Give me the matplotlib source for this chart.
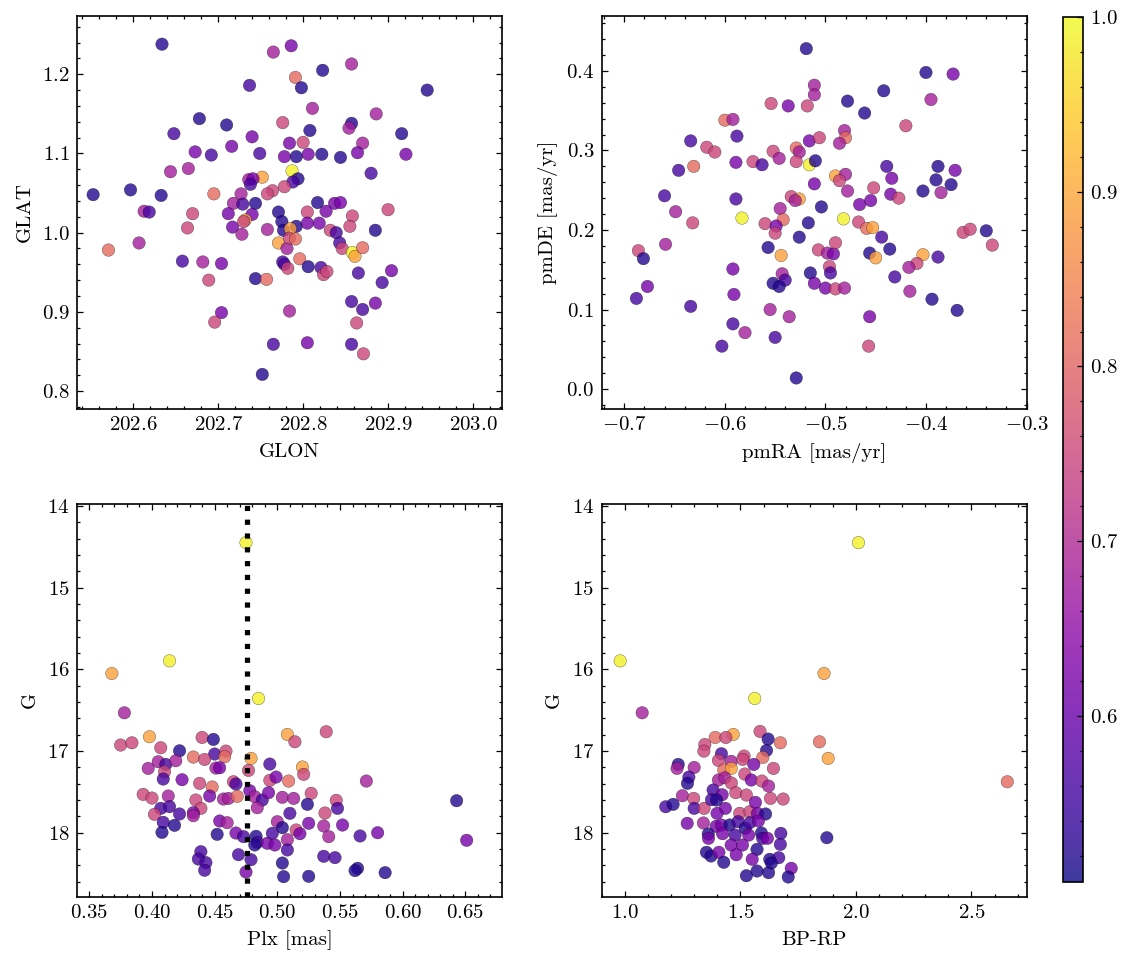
import numpy as np
import matplotlib
matplotlib.use("Agg")
import matplotlib.pyplot as plt
from matplotlib.ticker import AutoMinorLocator, MultipleLocator

# science-like style: serif CM font, inward ticks on all sides
plt.rcParams.update({
    "font.family": "serif",
    "font.serif": ["cmr10"],
    "mathtext.fontset": "cm",
    "axes.formatter.use_mathtext": True,
    "font.size": 10,
    "axes.linewidth": 0.8,
    "xtick.direction": "in",
    "ytick.direction": "in",
    "xtick.top": True,
    "ytick.right": True,
    "xtick.minor.visible": True,
    "ytick.minor.visible": True,
    "xtick.major.size": 3,
    "ytick.major.size": 3,
    "xtick.minor.size": 1.5,
    "ytick.minor.size": 1.5,
    "xtick.major.width": 0.6,
    "ytick.major.width": 0.6,
    "xtick.minor.width": 0.6,
    "ytick.minor.width": 0.6,
})

# ---- panel 1: GLON / GLAT ----
glon = [202.634, 202.765, 202.786, 202.857, 202.791, 202.823, 202.798, 202.737, 202.946, 202.811,
        202.678, 202.710, 202.648, 202.776, 202.808, 202.857, 202.854, 202.886, 202.916, 202.740,
        202.716, 202.784, 202.800, 202.870, 202.673, 202.692, 202.749, 202.778, 202.792, 202.806,
        202.822, 202.844, 202.864, 202.921, 202.644, 202.665, 202.787, 202.752, 202.736, 202.741,
        202.738, 202.794, 202.788, 202.880, 202.778, 202.764, 202.758, 202.695, 202.727, 202.553,
        202.597, 202.633, 202.718, 202.729, 202.744, 202.817, 202.837, 202.844, 202.613, 202.619,
        202.670, 202.712, 202.740, 202.771, 202.805, 202.827, 202.858, 202.900, 202.664, 202.717,
        202.728, 202.732, 202.730, 202.775, 202.777, 202.758, 202.792, 202.785, 202.805, 202.819,
        202.832, 202.839, 202.855, 202.885, 202.571, 202.607, 202.771, 202.781, 202.784, 202.791,
        202.843, 202.846, 202.858, 202.861, 202.870, 202.658, 202.682, 202.704, 202.776, 202.778,
        202.782, 202.796, 202.806, 202.821, 202.824, 202.828, 202.865, 202.904, 202.689, 202.744,
        202.757, 202.893, 202.857, 202.870, 202.885, 202.704, 202.696, 202.784, 202.863, 202.765,
        202.805, 202.857, 202.871, 202.752]
glat = [1.238, 1.228, 1.236, 1.213, 1.196, 1.205, 1.183, 1.186, 1.180, 1.157,
        1.144, 1.136, 1.125, 1.139, 1.129, 1.138, 1.132, 1.150, 1.125, 1.121,
        1.109, 1.113, 1.114, 1.113, 1.102, 1.098, 1.100, 1.096, 1.096, 1.099,
        1.099, 1.095, 1.101, 1.099, 1.077, 1.081, 1.078, 1.070, 1.067, 1.068,
        1.061, 1.068, 1.064, 1.075, 1.058, 1.053, 1.049, 1.049, 1.049, 1.048,
        1.054, 1.047, 1.037, 1.036, 1.037, 1.038, 1.037, 1.038, 1.027, 1.026,
        1.024, 1.024, 1.023, 1.026, 1.026, 1.027, 1.021, 1.029, 1.006, 1.007,
        0.998, 1.016, 1.014, 1.014, 1.003, 1.004, 1.008, 1.005, 1.012, 1.012,
        1.003, 1.000, 1.008, 1.003, 0.978, 0.987, 0.987, 0.980, 0.993, 0.992,
        0.987, 0.980, 0.975, 0.970, 0.981, 0.964, 0.963, 0.961, 0.963, 0.960,
        0.955, 0.967, 0.957, 0.956, 0.947, 0.951, 0.949, 0.952, 0.940, 0.942,
        0.941, 0.937, 0.913, 0.903, 0.911, 0.899, 0.887, 0.901, 0.886, 0.859,
        0.861, 0.859, 0.847, 0.821]
prob1 = [0.52, 0.68, 0.62, 0.68, 0.81, 0.52, 0.52, 0.56, 0.52, 0.68,
         0.52, 0.52, 0.56, 0.75, 0.52, 0.52, 0.68, 0.68, 0.52, 0.62,
         0.62, 0.62, 0.75, 0.68, 0.62, 0.56, 0.56, 0.62, 0.52, 0.62,
         0.52, 0.52, 0.62, 0.62, 0.68, 0.68, 0.99, 0.89, 0.68, 0.62,
         0.56, 0.52, 0.56, 0.56, 0.75, 0.75, 0.75, 0.81, 0.68, 0.52,
         0.52, 0.52, 0.68, 0.56, 0.52, 0.52, 0.62, 0.62, 0.68, 0.56,
         0.75, 0.62, 0.62, 0.52, 0.75, 0.62, 0.75, 0.75, 0.75, 0.62,
         0.68, 0.89, 0.75, 0.52, 0.52, 0.68, 0.52, 0.89, 0.62, 0.62,
         0.75, 0.56, 0.75, 0.52, 0.81, 0.68, 0.89, 0.68, 0.75, 0.81,
         0.56, 0.75, 0.99, 0.89, 0.81, 0.56, 0.68, 0.62, 0.56, 0.56,
         0.75, 0.81, 0.52, 0.56, 0.75, 0.75, 0.56, 0.62, 0.75, 0.52,
         0.81, 0.56, 0.56, 0.56, 0.62, 0.62, 0.75, 0.68, 0.75, 0.56,
         0.62, 0.56, 0.75, 0.52]

# ---- panel 2: proper motions ----
pmra = [-0.519, -0.400, -0.373, -0.511, -0.511, -0.554, -0.537, -0.518, -0.478, -0.442,
        -0.461, -0.395, -0.600, -0.592, -0.420, -0.634, -0.588, -0.516, -0.506, -0.481,
        -0.480, -0.486, -0.618, -0.610, -0.589, -0.572, -0.563, -0.552, -0.546, -0.529,
        -0.526, -0.529, -0.516, -0.510, -0.646, -0.631, -0.439, -0.388, -0.371, -0.490,
        -0.480, -0.486, -0.511, -0.434, -0.390, -0.375, -0.660, -0.589, -0.534, -0.526,
        -0.530, -0.504, -0.478, -0.452, -0.466, -0.455, -0.435, -0.427, -0.403, -0.385,
        -0.649, -0.632, -0.583, -0.545, -0.560, -0.542, -0.549, -0.550, -0.517, -0.526,
        -0.482, -0.467, -0.459, -0.453, -0.444, -0.363, -0.356, -0.340, -0.334, -0.686,
        -0.659, -0.681, -0.557, -0.544, -0.507, -0.498, -0.492, -0.490, -0.456, -0.450,
        -0.436, -0.403, -0.409, -0.417, -0.388, -0.592, -0.543, -0.515, -0.496, -0.495,
        -0.540, -0.552, -0.546, -0.511, -0.500, -0.490, -0.481, -0.431, -0.416, -0.677,
        -0.688, -0.591, -0.394, -0.634, -0.555, -0.536, -0.369, -0.456, -0.592, -0.580,
        -0.550, -0.603, -0.457, -0.529]
pmde = [0.428, 0.398, 0.396, 0.382, 0.370, 0.359, 0.356, 0.356, 0.362, 0.375,
        0.347, 0.364, 0.338, 0.339, 0.331, 0.312, 0.318, 0.312, 0.316, 0.325,
        0.316, 0.309, 0.304, 0.298, 0.285, 0.286, 0.282, 0.299, 0.290, 0.303,
        0.298, 0.286, 0.282, 0.287, 0.275, 0.280, 0.280, 0.280, 0.275, 0.268,
        0.270, 0.262, 0.258, 0.265, 0.263, 0.257, 0.243, 0.239, 0.242, 0.239,
        0.237, 0.229, 0.249, 0.253, 0.232, 0.237, 0.245, 0.240, 0.249, 0.247,
        0.223, 0.209, 0.215, 0.227, 0.208, 0.213, 0.205, 0.196, 0.209, 0.191,
        0.214, 0.210, 0.202, 0.203, 0.191, 0.197, 0.201, 0.199, 0.181, 0.174,
        0.182, 0.164, 0.178, 0.168, 0.175, 0.171, 0.170, 0.184, 0.171, 0.165,
        0.176, 0.169, 0.158, 0.153, 0.166, 0.151, 0.145, 0.146, 0.154, 0.146,
        0.137, 0.133, 0.129, 0.133, 0.127, 0.126, 0.127, 0.141, 0.123, 0.129,
        0.114, 0.119, 0.113, 0.104, 0.100, 0.091, 0.099, 0.091, 0.082, 0.071,
        0.065, 0.054, 0.054, 0.014]
prob2 = [0.52, 0.52, 0.62, 0.68, 0.68, 0.75, 0.62, 0.75, 0.52, 0.52,
         0.52, 0.68, 0.81, 0.68, 0.75, 0.56, 0.56, 0.62, 0.75, 0.68,
         0.81, 0.68, 0.75, 0.75, 0.62, 0.75, 0.56, 0.75, 0.68, 0.81,
         0.68, 0.75, 0.99, 0.52, 0.56, 0.81, 0.56, 0.52, 0.62, 0.89,
         0.68, 0.75, 0.62, 0.62, 0.52, 0.52, 0.56, 0.56, 0.75, 0.89,
         0.68, 0.52, 0.68, 0.75, 0.62, 0.62, 0.62, 0.75, 0.52, 0.68,
         0.68, 0.75, 0.99, 0.68, 0.75, 0.81, 0.62, 0.75, 0.52, 0.52,
         0.99, 0.75, 0.81, 0.89, 0.56, 0.75, 0.75, 0.52, 0.75, 0.75,
         0.68, 0.52, 0.52, 0.89, 0.75, 0.68, 0.62, 0.75, 0.52, 0.89,
         0.52, 0.89, 0.75, 0.68, 0.56, 0.62, 0.68, 0.52, 0.75, 0.56,
         0.56, 0.52, 0.52, 0.62, 0.62, 0.75, 0.68, 0.56, 0.68, 0.62,
         0.56, 0.62, 0.52, 0.56, 0.68, 0.68, 0.52, 0.62, 0.56, 0.68,
         0.56, 0.56, 0.75, 0.52]

# ---- panel 3: parallax / G ----
plx = [0.475, 0.368, 0.414, 0.485, 0.378, 0.398, 0.375, 0.384, 0.407, 0.440,
       0.449, 0.508, 0.514, 0.539, 0.422, 0.450, 0.459, 0.458, 0.479, 0.405,
       0.411, 0.419, 0.433, 0.442, 0.397, 0.451, 0.454, 0.494, 0.477, 0.520,
       0.521, 0.410, 0.409, 0.424, 0.438, 0.448, 0.465, 0.467, 0.478, 0.494,
       0.499, 0.509, 0.571, 0.393, 0.400, 0.413, 0.446, 0.435, 0.457, 0.461,
       0.468, 0.482, 0.488, 0.493, 0.504, 0.513, 0.527, 0.547, 0.524, 0.407,
       0.414, 0.439, 0.484, 0.548, 0.402, 0.422, 0.433, 0.433, 0.510, 0.538,
       0.643, 0.409, 0.418, 0.408, 0.454, 0.460, 0.500, 0.504, 0.525, 0.537,
       0.552, 0.515, 0.518, 0.452, 0.467, 0.473, 0.483, 0.484, 0.492, 0.496,
       0.498, 0.508, 0.541, 0.566, 0.580, 0.651, 0.439, 0.437, 0.443, 0.442,
       0.469, 0.479, 0.475, 0.508, 0.504, 0.505, 0.525, 0.537, 0.546, 0.564,
       0.562, 0.586, 0.482]
gmag3 = [14.449, 16.051, 15.896, 16.357, 16.532, 16.825, 16.927, 16.899, 16.960, 16.834,
         16.858, 16.797, 16.887, 16.764, 16.997, 17.037, 17.001, 17.070, 17.090, 17.131,
         17.164, 17.119, 17.074, 17.103, 17.213, 17.209, 17.205, 17.160, 17.237, 17.196,
         17.286, 17.254, 17.343, 17.351, 17.396, 17.441, 17.376, 17.404, 17.486, 17.359,
         17.319, 17.368, 17.368, 17.531, 17.576, 17.551, 17.551, 17.600, 17.588, 17.580,
         17.555, 17.559, 17.600, 17.510, 17.567, 17.580, 17.518, 17.604, 17.653, 17.702,
         17.681, 17.702, 17.694, 17.702, 17.775, 17.771, 17.755, 17.792, 17.763, 17.759,
         17.608, 17.873, 17.910, 17.996, 17.857, 17.877, 17.865, 17.938, 17.885, 17.918,
         17.906, 17.967, 18.012, 18.020, 18.004, 18.048, 18.044, 18.118, 18.130, 18.008,
         18.150, 18.085, 18.048, 18.040, 18.000, 18.093, 18.232, 18.322, 18.366, 18.460,
         18.269, 18.330, 18.481, 18.211, 18.371, 18.538, 18.534, 18.289, 18.305, 18.436,
         18.464, 18.489, 18.150]
prob3 = [0.99, 0.89, 0.99, 0.99, 0.68, 0.89, 0.75, 0.75, 0.75, 0.75,
         0.52, 0.89, 0.75, 0.75, 0.52, 0.56, 0.75, 0.81, 0.89, 0.68,
         0.56, 0.68, 0.81, 0.75, 0.68, 0.68, 0.62, 0.56, 0.75, 0.89,
         0.75, 0.75, 0.56, 0.62, 0.75, 0.81, 0.75, 0.56, 0.62, 0.75,
         0.62, 0.81, 0.68, 0.75, 0.75, 0.68, 0.62, 0.75, 0.68, 0.68,
         0.81, 0.68, 0.56, 0.62, 0.68, 0.68, 0.75, 0.75, 0.52, 0.56,
         0.56, 0.75, 0.68, 0.56, 0.75, 0.56, 0.62, 0.68, 0.56, 0.75,
         0.52, 0.56, 0.52, 0.52, 0.62, 0.68, 0.68, 0.52, 0.62, 0.68,
         0.62, 0.75, 0.62, 0.52, 0.62, 0.56, 0.52, 0.56, 0.62, 0.56,
         0.62, 0.68, 0.68, 0.56, 0.62, 0.62, 0.56, 0.56, 0.56, 0.56,
         0.56, 0.56, 0.62, 0.56, 0.52, 0.52, 0.52, 0.56, 0.56, 0.52,
         0.52, 0.52, 0.52]
plx_ref = 0.476

# ---- panel 4: colour / G ----
bprp = [2.011, 0.980, 1.562, 1.862, 1.075, 1.469, 1.585, 1.620, 1.673, 1.842,
        1.880, 2.655, 1.391, 1.437, 1.346, 1.342, 1.418, 1.516, 1.613, 1.597,
        1.405, 1.460, 1.510, 1.558, 1.643, 1.231, 1.226, 1.300, 1.277, 1.271,
        1.428, 1.461, 1.405, 1.433, 1.461, 1.519, 1.547, 1.593, 1.622, 1.249,
        1.298, 1.382, 1.421, 1.480, 1.526, 1.630, 1.685, 1.177, 1.209, 1.300,
        1.343, 1.375, 1.397, 1.435, 1.399, 1.497, 1.541, 1.565, 1.574, 1.609,
        1.270, 1.340, 1.395, 1.418, 1.453, 1.490, 1.521, 1.541, 1.578, 1.361,
        1.423, 1.362, 1.477, 1.536, 1.591, 1.596, 1.617, 1.675, 1.673, 1.460,
        1.509, 1.572, 1.353, 1.373, 1.407, 1.428, 1.482, 1.551, 1.627, 1.666,
        1.634, 1.720, 1.572, 1.526, 1.622, 1.707, 1.874]
gmag4 = [14.449, 15.896, 16.357, 16.051, 16.532, 16.797, 16.760, 16.854, 16.899, 16.887,
         17.090, 17.376, 16.834, 16.834, 16.920, 17.001, 17.033, 17.062, 16.993, 17.078,
         17.115, 17.127, 17.103, 17.164, 17.213, 17.164, 17.213, 17.201, 17.319, 17.396,
         17.233, 17.213, 17.355, 17.327, 17.392, 17.282, 17.355, 17.368, 17.429, 17.547,
         17.580, 17.478, 17.535, 17.510, 17.539, 17.580, 17.588, 17.682, 17.653, 17.702,
         17.702, 17.596, 17.600, 17.702, 17.763, 17.763, 17.743, 17.629, 17.763, 17.771,
         17.885, 17.881, 17.922, 17.906, 17.906, 17.865, 17.947, 17.877, 17.857, 18.016,
         18.012, 18.069, 18.029, 18.029, 18.004, 18.069, 18.069, 18.008, 18.143, 18.151,
         18.151, 18.204, 18.240, 18.285, 18.240, 18.362, 18.269, 18.326, 18.326, 18.306,
         18.371, 18.436, 18.469, 18.526, 18.489, 18.542, 18.061]
prob4 = [0.99, 0.99, 0.99, 0.89, 0.68, 0.89, 0.75, 0.52, 0.81, 0.81,
         0.89, 0.81, 0.81, 0.75, 0.75, 0.75, 0.56, 0.75, 0.52, 0.81,
         0.75, 0.68, 0.75, 0.62, 0.75, 0.52, 0.68, 0.68, 0.56, 0.52,
         0.81, 0.89, 0.68, 0.68, 0.75, 0.75, 0.62, 0.75, 0.68, 0.68,
         0.75, 0.56, 0.62, 0.75, 0.75, 0.75, 0.75, 0.56, 0.52, 0.56,
         0.75, 0.56, 0.52, 0.62, 0.62, 0.75, 0.75, 0.62, 0.62, 0.52,
         0.62, 0.68, 0.62, 0.62, 0.52, 0.56, 0.52, 0.56, 0.62, 0.52,
         0.62, 0.62, 0.56, 0.62, 0.52, 0.56, 0.62, 0.56, 0.56, 0.62,
         0.62, 0.52, 0.52, 0.52, 0.62, 0.52, 0.62, 0.62, 0.52, 0.56,
         0.52, 0.62, 0.52, 0.52, 0.52, 0.52, 0.52]

vmin, vmax = 0.505, 1.0
cmap = "plasma"
kw = dict(cmap=cmap, vmin=vmin, vmax=vmax, s=36, alpha=0.8, edgecolors="k", linewidths=0.15)

W, H = 1133, 965
fig = plt.figure(figsize=(W / 150, H / 150), dpi=150)


def px_axes(x0, y0, x1, y1):
    # pixel box -> figure fraction
    return fig.add_axes([x0 / W, 1 - y1 / H, (x1 - x0) / W, (y1 - y0) / H])


ax1 = px_axes(77, 16, 502, 409)
ax2 = px_axes(601.5, 16, 1026.5, 409)
ax3 = px_axes(77, 503.5, 502, 897)
ax4 = px_axes(601.5, 503.5, 1026.5, 897)
cax = px_axes(1063, 17, 1083, 882)

ax1.scatter(glon, glat, c=prob1, **kw)
ax1.set_xlim(202.534, 203.034)
ax1.set_ylim(0.7773, 1.2736)
ax1.xaxis.set_major_locator(MultipleLocator(0.1))
ax1.yaxis.set_major_locator(MultipleLocator(0.1))
ax1.set_xlabel("GLON")
ax1.set_ylabel("GLAT")

ax2.scatter(pmra, pmde, c=prob2, **kw)
ax2.set_xlim(-0.7227, -0.3)
ax2.set_ylim(-0.025, 0.469)
ax2.xaxis.set_major_locator(MultipleLocator(0.1))
ax2.yaxis.set_major_locator(MultipleLocator(0.1))
ax2.set_xlabel("pmRA [mas/yr]")
ax2.set_ylabel("pmDE [mas/yr]")

ax3.scatter(plx, gmag3, c=prob3, **kw)
ax3.axvline(plx_ref, color="k", linestyle=":", linewidth=2.5, zorder=3)
ax3.set_xlim(0.3402, 0.6792)
ax3.set_ylim(18.787, 13.97)
ax3.xaxis.set_major_locator(MultipleLocator(0.05))
ax3.yaxis.set_major_locator(MultipleLocator(1))
ax3.set_xlabel("Plx [mas]")
ax3.set_ylabel("G")

sc = ax4.scatter(bprp, gmag4, c=prob4, **kw)
ax4.set_xlim(0.899, 2.738)
ax4.set_ylim(18.787, 13.97)
ax4.xaxis.set_major_locator(MultipleLocator(0.5))
ax4.yaxis.set_major_locator(MultipleLocator(1))
ax4.set_xlabel("BP-RP")
ax4.set_ylabel("G")

for ax in (ax1, ax2, ax3, ax4):
    ax.xaxis.set_minor_locator(AutoMinorLocator(5))
    ax.yaxis.set_minor_locator(AutoMinorLocator(5))
    ax.tick_params(which="both", top=True, right=True, direction="in")

# colorbar from the scatter so it keeps the same transparency
cb = fig.colorbar(sc, cax=cax)
cb.set_ticks([0.6, 0.7, 0.8, 0.9, 1.0])
cb.ax.yaxis.set_minor_locator(MultipleLocator(0.02))
cb.ax.tick_params(which="both", direction="in", left=False, right=True)
cb.outline.set_linewidth(0.8)

fig.savefig("out.png", dpi=150)
